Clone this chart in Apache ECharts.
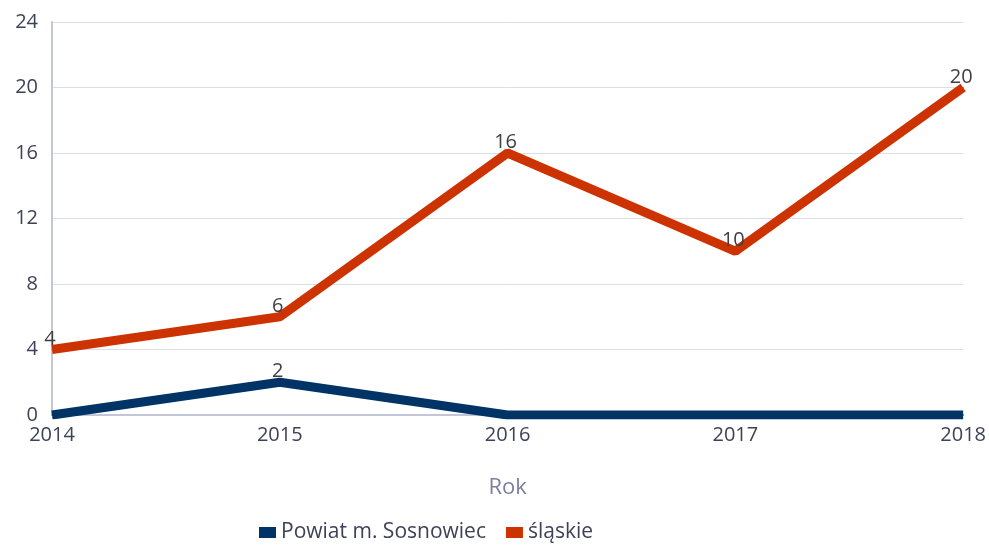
<!DOCTYPE html>
<html>
<head>
<meta charset="utf-8">
<script src="https://cdn.jsdelivr.net/npm/echarts@6/dist/echarts.min.js"></script>
<style>
html,body{margin:0;padding:0;background:#fff;}
#chart{width:989px;height:546px;}
</style>
</head>
<body>
<div id="chart"></div>
<script>
const years=['2014','2015','2016','2017','2018'];
const sosnowiec=[0,2,0,0,0];
const slaskie=[4,6,16,10,20];
const yTicks=[0,4,8,12,16,20,24];

const fontName='"Open Sans", Lato, sans-serif';
const labelColor='#3d4257';
const axisColor='#c3c6d6';

var myChart=echarts.init(document.getElementById('chart'));
var lbl={
    show:true,
    position:'top',
    distance:0,
    offset:[-2,0],
    fontSize:20,
    color:'#404040',
    fontFamily:fontName
};
var option={
    backgroundColor:'#fff',
    animation:false,
    textStyle:{fontFamily:fontName},
    grid:{left:52,right:23,top:22,bottom:131},
    legend:{
        bottom:-2,
        left:254,
        itemWidth:17,
        itemHeight:11,
        itemGap:20,
        icon:'rect',
        textStyle:{fontSize:21,color:labelColor,fontFamily:fontName},
        data:['Powiat m. Sosnowiec','śląskie']
    },
    xAxis:{
        type:'category',
        data:years,
        boundaryGap:false,
        name:'Rok',
        nameLocation:'middle',
        nameGap:62,
        nameTextStyle:{fontSize:22,color:'#7b80a0',fontFamily:fontName},
        axisLine:{lineStyle:{color:axisColor,width:2}},
        axisTick:{show:false},
        axisLabel:{fontSize:20,color:labelColor,margin:10,fontFamily:fontName,
            showMinLabel:true,showMaxLabel:true}
    },
    yAxis:{
        type:'value',
        min:yTicks[0],
        max:yTicks[yTicks.length-1],
        interval:4,
        axisLine:{show:true,lineStyle:{color:axisColor,width:2}},
        axisTick:{show:false},
        splitLine:{lineStyle:{color:'#dcdde6',width:1}},
        axisLabel:{fontSize:20,color:labelColor,margin:14,fontFamily:fontName}
    },
    series:[{
        name:'Powiat m. Sosnowiec',
        type:'line',
        data:sosnowiec,
        symbol:'circle',
        symbolSize:1,
        showSymbol:true,
        lineStyle:{width:9,color:'#003366'},
        itemStyle:{color:'#003366'},
        label:{
            ...lbl,
            formatter:(p)=>p.value===0?'':String(p.value)
        },
        z:3
    },{
        name:'śląskie',
        type:'line',
        data:slaskie,
        symbol:'circle',
        symbolSize:1,
        showSymbol:true,
        lineStyle:{width:9,color:'#cc3300'},
        itemStyle:{color:'#cc3300'},
        label:lbl,
        z:2
    }]
};
myChart.setOption(option);
</script>
</body>
</html>
